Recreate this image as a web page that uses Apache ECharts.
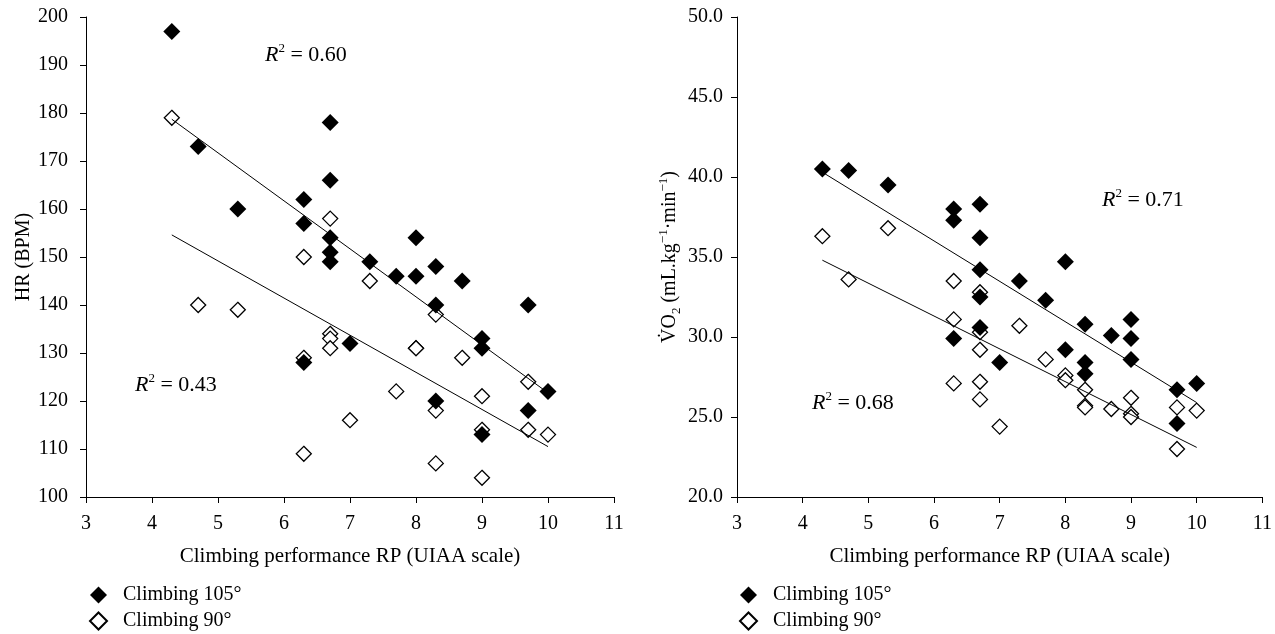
<!DOCTYPE html>
<html>
<head>
<meta charset="utf-8">
<script src="https://cdn.jsdelivr.net/npm/echarts@6/dist/echarts.min.js"></script>
<style>
  html, body { margin: 0; padding: 0; background: #fff; }
  #chart { width: 1275px; height: 634px; }
</style>
</head>
<body>
<div id="chart"></div>
<script>
// heart rate vs climbing grade
const hrX105 = [4.3, 4.7, 5.3, 6.3, 6.3, 6.3, 6.7, 6.7, 6.7, 6.7, 6.7, 7.0, 7.3, 7.7, 8.0, 8.0, 8.3, 8.3, 8.3, 8.7, 9.0, 9.0, 9.0, 9.7, 9.7, 10.0]
const hr105 = [197, 173, 160, 162, 157, 128, 178, 166, 154, 151, 149, 132, 149, 146, 154, 146, 148, 140, 120, 145, 133, 131, 113, 140, 118, 122]
const hrX90 = [4.3, 4.7, 5.3, 6.3, 6.3, 6.3, 6.7, 6.7, 6.7, 6.7, 7.0, 7.3, 7.7, 8.0, 8.0, 8.3, 8.3, 8.3, 8.7, 9.0, 9.0, 9.0, 9.7, 9.7, 10.0]
const hr90 = [179, 140, 139, 150, 129, 109, 158, 134, 133, 131, 116, 145, 122, 131, 131, 138, 118, 107, 129, 121, 114, 104, 124, 114, 113]

// VO2 vs climbing grade
const voX105 = [4.3, 4.7, 5.3, 6.3, 6.3, 6.3, 6.7, 6.7, 6.7, 6.7, 6.7, 7.0, 7.3, 7.7, 8.0, 8.0, 8.3, 8.3, 8.3, 8.7, 9.0, 9.0, 9.0, 9.7, 9.7, 10.0]
const vo105 = [40.5, 40.4, 39.5, 38.0, 37.3, 29.9, 38.3, 36.2, 34.2, 32.5, 30.6, 28.4, 33.5, 32.3, 34.7, 29.2, 30.8, 28.4, 27.7, 30.1, 31.1, 29.9, 28.6, 26.7, 24.6, 27.1]
const voX90 = [4.3, 4.7, 5.3, 6.3, 6.3, 6.3, 6.7, 6.7, 6.7, 6.7, 6.7, 7.0, 7.3, 7.7, 8.0, 8.0, 8.3, 8.3, 8.3, 8.7, 9.0, 9.0, 9.0, 9.7, 9.7, 10.0]
const vo90 = [36.3, 33.6, 36.8, 33.5, 31.1, 27.1, 32.8, 30.3, 29.2, 27.2, 26.1, 24.4, 30.7, 28.6, 27.6, 27.3, 26.7, 25.7, 25.6, 25.5, 26.2, 25.2, 25.0, 25.6, 23.0, 25.4]

// regression line ends
const trendX = [4.3, 10.0]
const hrFit105 = [178.7, 121.7]
const hrFit90 = [154.6, 110.5]
const voFit105 = [40.3, 25.9]
const voFit90 = [34.8, 23.1]

const xTicks = [3, 4, 5, 6, 7, 8, 9, 10, 11]
const name105 = 'Climbing 105°'
const name90 = 'Climbing 90°'

const font = '"Liberation Serif", "DejaVu Serif", serif'
const zip = (xs, ys) => xs.map((x, i) => [x, ys[i]])

const xAxisBase = (idx) => ({
  gridIndex: idx,
  type: 'value',
  min: xTicks[0],
  max: xTicks[xTicks.length - 1],
  interval: 1,
  name: 'Climbing performance RP (UIAA scale)',
  nameLocation: 'middle',
  nameGap: 49,
  nameTextStyle: { fontFamily: font, fontSize: 21, color: '#000' },
  axisLine: { onZero: false, lineStyle: { color: '#000', width: 1 } },
  axisTick: { length: 6, lineStyle: { color: '#000' } },
  axisLabel: { fontFamily: font, fontSize: 20, color: '#000', margin: 17 },
  splitLine: { show: false }
})

const yAxisBase = {
  type: 'value',
  axisLine: { show: true, lineStyle: { color: '#000', width: 1 } },
  axisTick: { show: true, length: 6, lineStyle: { color: '#000' } },
  axisLabel: { fontFamily: font, fontSize: 20, color: '#000', margin: 18 },
  splitLine: { show: false },
  nameLocation: 'middle'
}

const openStyle = { color: '#fff', borderColor: '#000', borderWidth: 1.3, opacity: 1 }
const fillStyle = { color: '#000', opacity: 1 }

const scatter = (name, idx, data, style, size) => ({
  type: 'scatter', name: name, xAxisIndex: idx, yAxisIndex: idx,
  symbol: 'diamond', symbolSize: size, itemStyle: style, data: data,
  emphasis: { disabled: true }, z: 2
})
const trend = (idx, ys) => ({
  type: 'line', xAxisIndex: idx, yAxisIndex: idx, data: zip(trendX, ys),
  symbol: 'none', silent: true, lineStyle: { color: '#000', width: 1 }, z: 3
})

const rSq = (left, top, val) => ({
  type: 'text', left: left, top: top,
  style: {
    text: '{i|R}{s|2}{n| = ' + val + '}',
    rich: {
      i: { fontFamily: font, fontStyle: 'italic', fontSize: 22, lineHeight: 26, fill: '#000' },
      s: { fontFamily: font, fontSize: 13, verticalAlign: 'top', lineHeight: 26, fill: '#000' },
      n: { fontFamily: font, fontSize: 22, lineHeight: 26, fill: '#000' }
    }
  }
})

const legendBase = (left) => ({
  left: left, top: 585, orient: 'vertical',
  padding: 0,
  data: [
    { name: name105, icon: 'diamond' },
    { name: name90, icon: 'diamond' }
  ],
  itemWidth: 17, itemHeight: 17, itemGap: 6,
  selectedMode: false,
  textStyle: { fontFamily: font, fontSize: 20, color: '#000', padding: [0, 0, 0, 11] }
})

const chart = echarts.init(document.getElementById('chart'))
chart.setOption({
  animation: false,
  backgroundColor: '#fff',
  grid: [
    { left: 86, top: 17, width: 528, height: 480 },
    { left: 737, top: 17, width: 528, height: 480 }
  ],
  xAxis: [xAxisBase(0), xAxisBase(1)],
  yAxis: [
    Object.assign({}, yAxisBase, {
      gridIndex: 0, min: 100, max: 200, interval: 10,
      name: 'HR (BPM)', nameGap: 48,
      nameTextStyle: { fontFamily: font, fontSize: 20, color: '#000' }
    }),
    Object.assign({}, yAxisBase, {
      gridIndex: 1, min: 20, max: 50, interval: 5,
      axisLabel: Object.assign({}, yAxisBase.axisLabel, { margin: 14, formatter: v => v.toFixed(1) }),
      name: '{n|V\u0307O}{b|2}{n| (mL.kg}{t|\u22121}{n|\u00b7min}{t|\u22121}{n|)}', nameGap: 54,
      nameTextStyle: {
        fontFamily: font, fontSize: 20, color: '#000',
        rich: {
          n: { fontFamily: font, fontSize: 20, lineHeight: 26, color: '#000' },
          b: { fontFamily: font, fontSize: 13, verticalAlign: 'bottom', lineHeight: 26, color: '#000' },
          t: { fontFamily: font, fontSize: 13, verticalAlign: 'top', lineHeight: 26, color: '#000' }
        }
      }
    })
  ],
  legend: [legendBase(89), legendBase(739)],
  series: [
    scatter(name90, 0, zip(hrX90, hr90), openStyle, 15),
    scatter(name105, 0, zip(hrX105, hr105), fillStyle, 17),
    trend(0, hrFit105),
    trend(0, hrFit90),
    scatter(name90, 1, zip(voX90, vo90), openStyle, 15),
    scatter(name105, 1, zip(voX105, vo105), fillStyle, 17),
    trend(1, voFit105),
    trend(1, voFit90)
  ],
  graphic: [
    rSq(265, 42, '0.60'),
    rSq(135, 372, '0.43'),
    rSq(1102, 187, '0.71'),
    rSq(812, 390, '0.68')
  ]
})
</script>
</body>
</html>
